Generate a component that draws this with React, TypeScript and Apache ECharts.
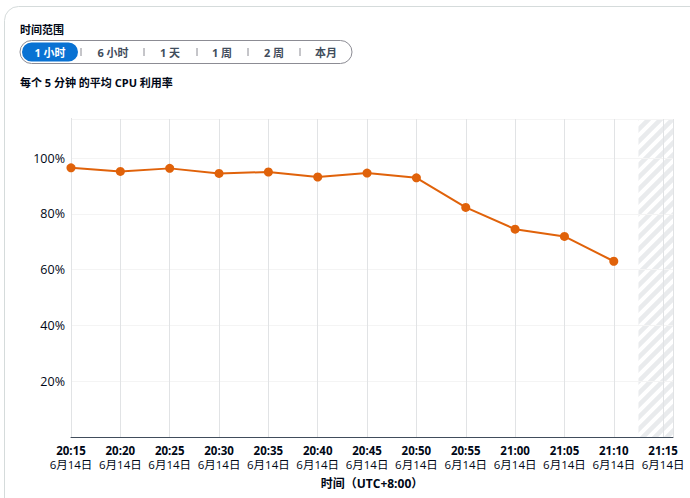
import React, { useEffect, useRef } from "react";
import * as echarts from "echarts";

const timeLabels = ["20:15", "20:20", "20:25", "20:30", "20:35", "20:40", "20:45", "20:50", "20:55", "21:00", "21:05", "21:10", "21:15"];
const dateLabel = "6月14日";
const minutes = [0, 5, 10, 15, 20, 25, 30, 35, 40, 45, 50, 55];
const cpu = [96.5, 95.2, 96.3, 94.5, 95.0, 93.2, 94.6, 92.9, 82.3, 74.5, 71.9, 63.0];
const rangeOptions = ["1 小时", "6 小时", "1 天", "1 周", "2 周", "本月"];
const hatchStart = 57.5;
const xMax = 61;

const FONT = "'Open Sans', 'Noto Sans CJK SC', sans-serif";

function makeHatch() {
  const c = document.createElement("canvas");
  const s = 12;
  c.width = s;
  c.height = s;
  const ctx = c.getContext("2d")!;
  ctx.fillStyle = "#ffffff";
  ctx.fillRect(0, 0, s, s);
  ctx.strokeStyle = "#e9ebed";
  ctx.lineWidth = 4.5;
  ctx.beginPath();
  for (const o of [-s, 0, s]) {
    ctx.moveTo(o - 2, s + 2);
    ctx.lineTo(o + s + 2, -2);
  }
  ctx.stroke();
  return c;
}

export default function App() {
  const ref = useRef<HTMLDivElement>(null);
  useEffect(() => {
    const chart = echarts.init(ref.current!, null, { renderer: "svg" });
    const btnCenters = [50, 113, 170, 222, 274, 326];
    const seps = [81, 144, 197, 248, 300];
    const graphics: any[] = [
      {
        type: "rect",
        shape: { x: 4.5, y: 6.5, width: 740, height: 540, r: 14 },
        style: { fill: "none", stroke: "#d5dbdb", lineWidth: 1 },
        silent: true,
      },
      {
        type: "text",
        x: 20,
        y: 29,
        style: { text: "时间范围", font: `bold 11px ${FONT}`, fill: "#000716", verticalAlign: "middle" },
      },
      {
        type: "rect",
        shape: { x: 20, y: 40.5, width: 332, height: 23, r: 12 },
        style: { fill: "#ffffff", stroke: "#8c8c94", lineWidth: 1 },
      },
      {
        type: "rect",
        shape: { x: 22, y: 42.5, width: 56, height: 19, r: 10 },
        style: { fill: "#0972d3" },
      },
    ];
    rangeOptions.forEach((t, i) => {
      graphics.push({
        type: "text",
        x: btnCenters[i],
        y: 52,
        style: {
          text: t,
          font: `bold 11px ${FONT}`,
          fill: i === 0 ? "#ffffff" : "#414d5c",
          align: "center",
          verticalAlign: "middle",
        },
      });
    });
    seps.forEach((x) => {
      graphics.push({
        type: "line",
        shape: { x1: x, y1: 48, x2: x, y2: 56 },
        style: { stroke: "#8c8c94", lineWidth: 1 },
      });
    });
    graphics.push({
      type: "text",
      x: 20,
      y: 82,
      style: { text: "每个 5 分钟 的平均 CPU 利用率", font: `bold 11px ${FONT}`, fill: "#000716", verticalAlign: "middle" },
    });

    chart.setOption({
      animation: false,
      backgroundColor: "#ffffff",
      textStyle: { fontFamily: FONT },
      grid: { left: 71, right: 17, top: 119, bottom: 61, containLabel: false },
      graphic: graphics,
      xAxis: {
        type: "value",
        z: 4,
        min: 0,
        max: xMax,
        interval: 5,
        name: "时间（UTC+8:00）",
        nameLocation: "middle",
        nameGap: 40,
        nameTextStyle: { fontFamily: FONT, fontWeight: "bold", fontSize: 12, color: "#000716" },
        axisLine: { show: true, lineStyle: { color: "#414d5c", width: 1 } },
        axisTick: { show: false },
        splitLine: { show: true, lineStyle: { color: "#e1e3e5", width: 1 } },
        axisLabel: {
          showMaxLabel: false,
          margin: 6,
          formatter: (v: number) => {
            const idx = Math.round(v / 5);
            if (v % 5 !== 0 || !timeLabels[idx]) return "";
            return `{t|${timeLabels[idx]}}\n{d|${dateLabel}}`;
          },
          rich: {
            t: { fontFamily: FONT, fontWeight: "bold", fontSize: 11.5, color: "#000716", lineHeight: 14 },
            d: { fontFamily: FONT, fontSize: 11.5, color: "#000716", lineHeight: 14 },
          },
        },
      },
      yAxis: {
        type: "value",
        min: 0,
        max: 114,
        interval: 20,
        axisLine: { show: true, lineStyle: { color: "#b4b4bb", width: 1 } },
        axisTick: { show: false },
        splitLine: { show: true, lineStyle: { color: "#f4f4f4", width: 1 } },
        axisLabel: {
          showMinLabel: false,
          showMaxLabel: false,
          margin: 6,
          fontFamily: FONT,
          fontSize: 12.5,
          color: "#000716",
          formatter: (v: number) => (v % 20 === 0 && v > 0 ? `${v}%` : ""),
        },
      },
      series: [
        {
          type: "line",
          data: [],
          z: -1,
          silent: true,
          markArea: {
            silent: true,
            z: -1,
            itemStyle: { color: { image: makeHatch(), repeat: "repeat" } as any },
            data: [[{ xAxis: hatchStart }, { xAxis: xMax }]],
          },
        },
        {
          type: "line",
          data: minutes.map((m, i) => [m, cpu[i]]),
          symbol: "circle",
          symbolSize: 9,
          lineStyle: { color: "#e0620a", width: 2 },
          itemStyle: { color: "#e0620a" },
          z: 5,
        },
      ],
    });
    return () => chart.dispose();
  }, []);
  return (
    <div
      ref={ref}
      style={{ position: "fixed", left: 0, top: 0, width: 690, height: 498 }}
    />
  );
}
